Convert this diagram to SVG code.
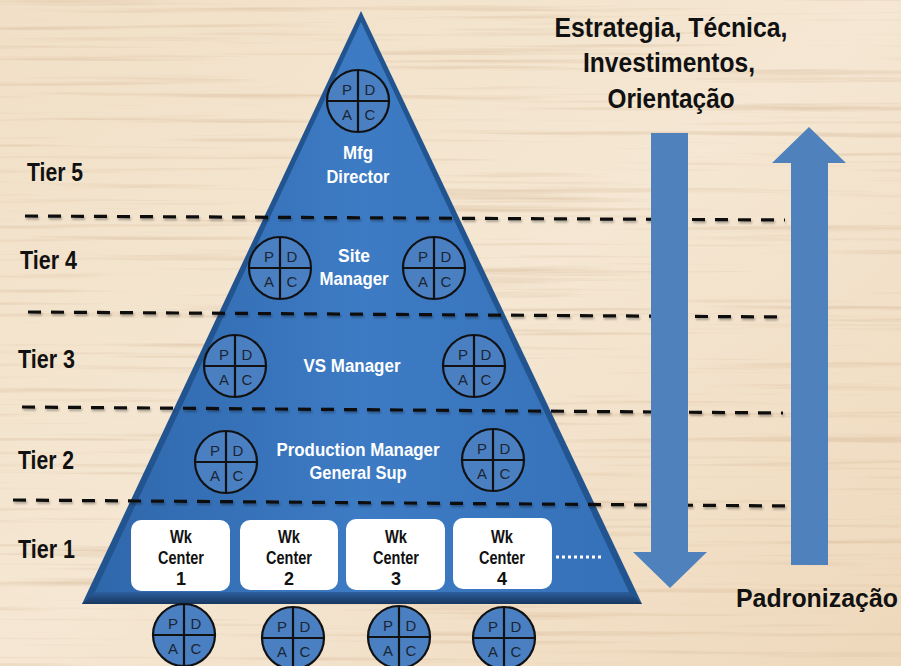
<svg xmlns="http://www.w3.org/2000/svg" xmlns:xlink="http://www.w3.org/1999/xlink" width="901" height="666" viewBox="0 0 901 666">
<defs>
<style>
.t{font-family:"Liberation Sans Narrow","Liberation Sans",Arial,sans-serif;font-weight:bold}
.w{fill:#ffffff;font-size:19px;text-anchor:middle}
.k{fill:#111111}
.tier{font-size:25px}
.box{fill:#ffffff}
.bt{fill:#111111;font-size:18px;text-anchor:middle}
.dash{stroke:#111111;stroke-width:3.2;stroke-dasharray:13 10;fill:none}
.arrow{fill:#4F81BD}
.pl{font-family:"Liberation Sans Narrow","Liberation Sans",Arial,sans-serif;font-size:15px;fill:#1c2533;text-anchor:middle}
.pc{fill:#4a7fc2;stroke:#111111;stroke-width:2.2}
.pln{stroke:#111111;stroke-width:2.2}
</style>
<linearGradient id="bg" x1="0" y1="0" x2="1" y2="1">
<stop offset="0" stop-color="#f1e0c7"/>
<stop offset="0.5" stop-color="#f5e7d3"/>
<stop offset="1" stop-color="#eed8bb"/>
</linearGradient>
<filter id="wood" x="0" y="0" width="100%" height="100%">
<feTurbulence type="fractalNoise" baseFrequency="0.003 0.16" numOctaves="4" seed="11" result="n"/>
<feColorMatrix in="n" type="matrix" values="0 0 0 0 0.66  0 0 0 0 0.47  0 0 0 0 0.30  3.2 0 0 0 -1.75"/>
</filter>
<linearGradient id="pyr" x1="0" y1="0" x2="1" y2="0">
<stop offset="0" stop-color="#2f67ab"/>
<stop offset="0.5" stop-color="#3d7bc4"/>
<stop offset="1" stop-color="#3571b8"/>
</linearGradient>
<linearGradient id="base" x1="0" y1="0" x2="0" y2="1">
<stop offset="0" stop-color="#2d5f9e"/>
<stop offset="1" stop-color="#17365f"/>
</linearGradient>
<filter id="sh" x="-5%" y="-50%" width="110%" height="300%">
<feDropShadow dx="1" dy="2" stdDeviation="1" flood-color="#000" flood-opacity="0.3"/>
</filter>
<g id="pdca">
<circle r="31" class="pc"/>
<line x1="0" y1="-31" x2="0" y2="31" class="pln"/>
<line x1="-31" y1="0" x2="31" y2="0" class="pln"/>
<text x="-11" y="-6" class="pl">P</text>
<text x="12" y="-6" class="pl">D</text>
<text x="-11" y="19" class="pl">A</text>
<text x="12" y="19" class="pl">C</text>
</g>
</defs>

<g id="background">
<rect x="0" y="0" width="901" height="666" fill="url(#bg)"/>
<rect x="0" y="0" width="901" height="666" filter="url(#wood)" opacity="0.45"/>
</g>

<g id="pyramid">
<polygon points="361,11 82,604 642,604" fill="#22548f"/>
<polygon points="361,22 95,592 629,592" fill="url(#pyr)"/>
<polygon points="95,592 629,592 642,604 82,604" fill="url(#base)"/>
</g>

<g id="connectors">
<line x1="25" y1="216" x2="785" y2="220" class="dash" filter="url(#sh)"/>
<line x1="28" y1="312" x2="786" y2="317" class="dash" filter="url(#sh)"/>
<line x1="22" y1="407" x2="783" y2="413" class="dash" filter="url(#sh)"/>
<line x1="13" y1="500" x2="790" y2="506" class="dash" filter="url(#sh)"/>
<polygon id="arrow-down" class="arrow" points="651,133 688,133 688,552 707,552 670,588 633,552 651,552"/>
<polygon id="arrow-up" class="arrow" points="791,565 828,565 828,163 846,163 809,127 772,163 791,163"/>
<line x1="556" y1="557" x2="602" y2="557" stroke="#ffffff" stroke-width="3" stroke-dasharray="3 3"/>
</g>

<g id="tier-labels" class="t k tier">
<text x="27" y="181" textLength="56" lengthAdjust="spacingAndGlyphs">Tier 5</text>
<text x="20" y="269" textLength="57" lengthAdjust="spacingAndGlyphs">Tier 4</text>
<text x="18" y="368" textLength="57" lengthAdjust="spacingAndGlyphs">Tier 3</text>
<text x="18" y="469" textLength="56" lengthAdjust="spacingAndGlyphs">Tier 2</text>
<text x="18" y="558" textLength="57" lengthAdjust="spacingAndGlyphs">Tier 1</text>
</g>

<g id="side-labels" class="t k" text-anchor="middle">
<text x="671" y="37" font-size="28" textLength="233" lengthAdjust="spacingAndGlyphs">Estrategia, Técnica,</text>
<text x="669" y="72" font-size="28" textLength="172" lengthAdjust="spacingAndGlyphs">Investimentos,</text>
<text x="671" y="108" font-size="28" textLength="127" lengthAdjust="spacingAndGlyphs">Orientação</text>
<text x="817" y="607" font-size="25" textLength="162" lengthAdjust="spacingAndGlyphs">Padronização</text>
</g>

<g id="tier5-mfg-director">
<use xlink:href="#pdca" x="358" y="101"/>
<text class="t w" x="358" y="159" textLength="30" lengthAdjust="spacingAndGlyphs">Mfg</text>
<text class="t w" x="358" y="183" textLength="63" lengthAdjust="spacingAndGlyphs">Director</text>
</g>

<g id="tier4-site-manager">
<use xlink:href="#pdca" x="280" y="268"/>
<use xlink:href="#pdca" x="434" y="268"/>
<text class="t w" x="354" y="262" textLength="32" lengthAdjust="spacingAndGlyphs">Site</text>
<text class="t w" x="354" y="285" textLength="69" lengthAdjust="spacingAndGlyphs">Manager</text>
</g>

<g id="tier3-vs-manager">
<use xlink:href="#pdca" x="235" y="366"/>
<use xlink:href="#pdca" x="474" y="366"/>
<text class="t w" x="352" y="372" textLength="97" lengthAdjust="spacingAndGlyphs">VS Manager</text>
</g>

<g id="tier2-production-manager">
<use xlink:href="#pdca" x="226" y="462"/>
<use xlink:href="#pdca" x="493" y="460"/>
<text class="t w" x="358" y="456" textLength="163" lengthAdjust="spacingAndGlyphs">Production Manager</text>
<text class="t w" x="358" y="479" textLength="97" lengthAdjust="spacingAndGlyphs">General Sup</text>
</g>

<g id="wk-center-1">
<rect class="box" x="131" y="520" width="99" height="71" rx="10"/>
<text class="t bt" x="181" y="543" textLength="22" lengthAdjust="spacingAndGlyphs">Wk</text>
<text class="t bt" x="181" y="564" textLength="46" lengthAdjust="spacingAndGlyphs">Center</text>
<text class="t bt" x="181" y="585">1</text>
<use xlink:href="#pdca" x="184" y="635"/>
</g>

<g id="wk-center-2">
<rect class="box" x="240" y="520" width="98" height="70" rx="10"/>
<text class="t bt" x="289" y="543" textLength="22" lengthAdjust="spacingAndGlyphs">Wk</text>
<text class="t bt" x="289" y="564" textLength="46" lengthAdjust="spacingAndGlyphs">Center</text>
<text class="t bt" x="289" y="585">2</text>
<use xlink:href="#pdca" x="293" y="638"/>
</g>

<g id="wk-center-3">
<rect class="box" x="346" y="519" width="99" height="71" rx="10"/>
<text class="t bt" x="396" y="543" textLength="22" lengthAdjust="spacingAndGlyphs">Wk</text>
<text class="t bt" x="396" y="564" textLength="46" lengthAdjust="spacingAndGlyphs">Center</text>
<text class="t bt" x="396" y="585">3</text>
<use xlink:href="#pdca" x="399" y="637"/>
</g>

<g id="wk-center-4">
<rect class="box" x="453" y="518" width="99" height="71" rx="10"/>
<text class="t bt" x="502" y="543" textLength="22" lengthAdjust="spacingAndGlyphs">Wk</text>
<text class="t bt" x="502" y="564" textLength="46" lengthAdjust="spacingAndGlyphs">Center</text>
<text class="t bt" x="502" y="585">4</text>
<use xlink:href="#pdca" x="504" y="638"/>
</g>
</svg>
